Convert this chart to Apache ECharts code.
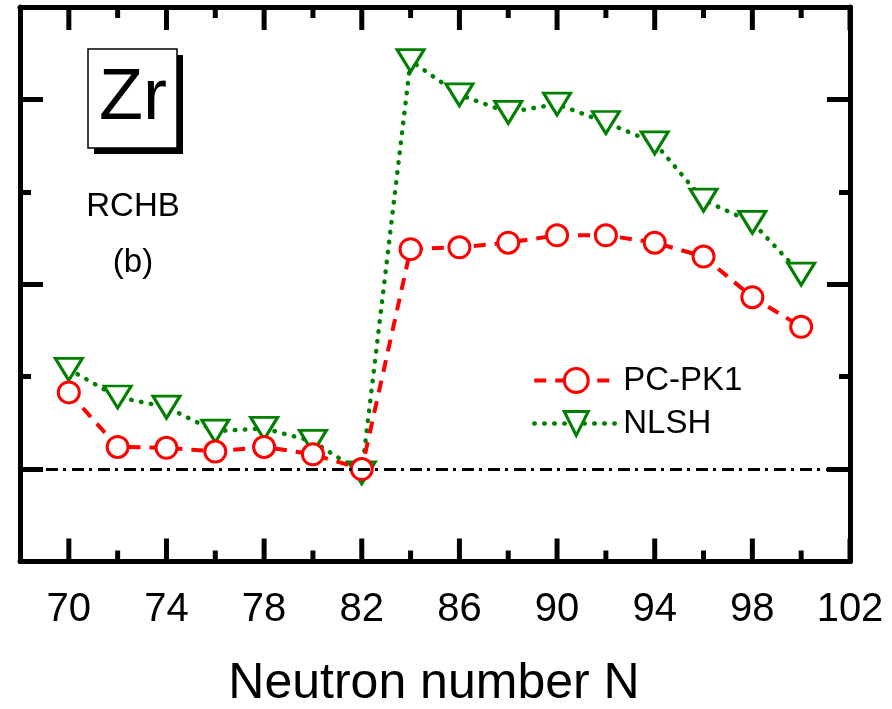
<!DOCTYPE html>
<html>
<head>
<meta charset="utf-8">
<script src="https://cdn.jsdelivr.net/npm/echarts@6/dist/echarts.min.js"></script>
<style>
html,body{margin:0;padding:0;background:#fff;}
#chart{width:892px;height:709px;}
</style>
</head>
<body>
<div id="chart"></div>
<script>
// ---- data ----
var neutronN = [70, 72, 74, 76, 78, 80, 82, 84, 86, 88, 90, 92, 94, 96, 98, 100];
var pcpk1 = [0.83, 0.24, 0.23, 0.19, 0.24, 0.16, 0.00, 2.38, 2.40, 2.45, 2.53, 2.53, 2.45, 2.30, 1.86, 1.54];
var nlsh  = [1.08, 0.78, 0.67, 0.41, 0.44, 0.30, -0.04, 4.42, 4.05, 3.86, 3.95, 3.75, 3.53, 2.91, 2.67, 2.11];
var xMajorTicks = [70, 74, 78, 82, 86, 90, 94, 98, 102];
var xMinorTicks = [72, 76, 80, 84, 88, 92, 96, 100];
var yMajorTicks = [0, 2, 4];
var yMinorTicks = [1, 3];
var seriesNames = ['PC-PK1', 'NLSH'];
var xTitle = 'Neutron number N';
var X_MIN = 68, X_MAX = 102, Y_MIN = -1, Y_MAX = 5;

function pairs(xs, ys) { return xs.map(function (x, i) { return [x, ys[i]]; }); }

var FONT = '"Liberation Sans", Arial, sans-serif';
var RED = '#ff0000', GREEN = '#008000';

function xAx(pos, showLabel) {
  return {
    type: 'value', position: pos, min: X_MIN, max: X_MAX,
    axisLine: { show: true, onZero: false, lineStyle: { color: '#000', width: 5 } },
    axisTick: { show: false },
    axisLabel: { show: showLabel, customValues: xMajorTicks, fontSize: 40, color: '#000', fontFamily: FONT, margin: 28 },
    splitLine: { show: false }
  };
}
function yAx(pos, ticks, len, showLine) {
  return {
    type: 'value', position: pos, min: Y_MIN, max: Y_MAX,
    axisLine: { show: showLine, onZero: false, lineStyle: { color: '#000', width: 5 } },
    axisTick: { show: true, inside: true, length: len, customValues: ticks, lineStyle: { color: '#000', width: 5 } },
    axisLabel: { show: false },
    splitLine: { show: false }
  };
}
// inward x-axis ticks on bottom and top edges, placed through the x scale
function xTickSeries(name, ticks, len) {
  return {
    name: name, type: 'custom', silent: true, z: 1, xAxisIndex: 0, yAxisIndex: 0,
    data: ticks.map(function (v) { return [v, Y_MIN]; }),
    renderItem: function (params, api) {
      var x = api.value(0);
      var b = api.coord([x, Y_MIN]);
      var t = api.coord([x, Y_MAX]);
      return {
        type: 'group',
        children: [
          { type: 'line', shape: { x1: b[0], y1: b[1], x2: b[0], y2: b[1] - len }, style: { stroke: '#000', lineWidth: 5 } },
          { type: 'line', shape: { x1: t[0], y1: t[1], x2: t[0], y2: t[1] + len }, style: { stroke: '#000', lineWidth: 5 } }
        ]
      };
    }
  };
}

var chart = echarts.init(document.getElementById('chart'), null, { renderer: 'canvas' });
chart.setOption({
  animation: false,
  backgroundColor: '#fff',
  grid: { left: 20, right: 42, top: 7, bottom: 147.5 },
  xAxis: [ xAx('bottom', true), xAx('top', false) ],
  yAxis: [
    yAx('left', yMajorTicks, 23, true),
    yAx('left', yMinorTicks, 11, false),
    yAx('right', yMajorTicks, 23, true),
    yAx('right', yMinorTicks, 11, false)
  ],
  legend: {
    data: [
      { name: seriesNames[0], lineStyle: { color: RED, width: 4, type: [12, 9] },
        itemStyle: { color: '#fff', borderColor: RED, borderWidth: 3 } },
      { name: seriesNames[1], lineStyle: { color: GREEN, width: 4.5, type: [0.5, 9.5], cap: 'round' },
        itemStyle: { color: '#fff', borderColor: GREEN, borderWidth: 3 } }
    ],
    orient: 'vertical',
    left: 527,
    top: 359,
    itemWidth: 84,
    itemHeight: 30,
    itemGap: 10,
    textStyle: { fontSize: 33, color: '#000', fontFamily: FONT },
    selectedMode: false
  },
  graphic: [
    { type: 'rect', shape: { x: 94, y: 55, width: 89, height: 99 }, style: { fill: '#000' }, z: 10 },
    { type: 'rect', shape: { x: 88, y: 49, width: 89, height: 99 }, style: { fill: '#fff', stroke: '#000', lineWidth: 1.5 }, z: 11 },
    { type: 'text', x: 133, y: 99, style: { text: 'Zr', font: '72px ' + FONT, fill: '#000', align: 'center', verticalAlign: 'middle' }, z: 12 },
    { type: 'text', x: 133, y: 207, style: { text: 'RCHB', font: '33px ' + FONT, fill: '#000', align: 'center', verticalAlign: 'middle' }, z: 12 },
    { type: 'text', x: 133, y: 263, style: { text: '(b)', font: '33px ' + FONT, fill: '#000', align: 'center', verticalAlign: 'middle' }, z: 12 },
    { type: 'text', x: 434, y: 684, style: { text: xTitle, font: '50px ' + FONT, fill: '#000', align: 'center', verticalAlign: 'middle' }, z: 12 }
  ],
  series: [
    xTickSeries('xMajor', xMajorTicks, 23),
    xTickSeries('xMinor', xMinorTicks, 11),
    {
      name: 'NLSH', type: 'line', data: pairs(neutronN, nlsh),
      symbol: 'triangle', symbolSize: [27, 22], symbolRotate: 180,
      itemStyle: { color: '#fff', borderColor: GREEN, borderWidth: 3 },
      lineStyle: { color: GREEN, width: 4.5, type: [0.5, 9.5], cap: 'round' },
      markLine: {
        silent: true, symbol: 'none', label: { show: false },
        lineStyle: { color: '#000', width: 3, type: [12, 5, 3, 6] },
        data: [{ yAxis: 0 }]
      },
      z: 2
    },
    {
      name: 'PC-PK1', type: 'line', data: pairs(neutronN, pcpk1),
      symbol: 'circle', symbolSize: 21,
      itemStyle: { color: '#fff', borderColor: RED, borderWidth: 3 },
      lineStyle: { color: RED, width: 4, type: [12, 9] },
      z: 3
    }
  ]
});
</script>
</body>
</html>
